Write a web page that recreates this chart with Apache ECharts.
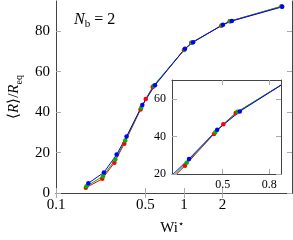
<!DOCTYPE html>
<html><head><meta charset="utf-8">
<script src="https://cdn.jsdelivr.net/npm/echarts@6/dist/echarts.min.js"></script>
<style>html,body{margin:0;padding:0;background:#fff}#c{width:293px;height:240px}</style>
</head><body><div id="c"></div>
<script>
const redWi   = [0.171,0.230,0.286,0.342,0.458,0.503,0.570,1.00,1.14,1.96,2.28,5.80];
const redR    = [2.6,7.0,15.0,24.4,41.3,46.5,52.4,70.8,74.3,82.8,85.0,92.4];
const greenWi = [0.173,0.233,0.291,0.348,0.464,0.580,1.01,1.15,1.98,2.30,5.80];
const greenR  = [3.3,8.3,16.6,26.0,42.2,53.1,71.0,74.3,83.0,85.0,92.3];
const blueWi  = [0.179,0.237,0.298,0.356,0.473,0.594,1.02,1.18,2.02,2.37,5.87];
const blueR   = [4.8,10.2,19.0,28.0,43.5,53.3,71.4,74.6,83.3,85.1,92.1];
const mainXTicks = [0.1,0.5,1,2];
const mainYTicks = [0,20,40,60,80];
const insetXTicks = [0.5,0.8];
const insetYTicks = [20,40,60];

const SERIF = 'Liberation Serif';
const pair = (xs, ys) => xs.map((x, i) => [x, ys[i]]);
const seriesDefs = [
  {name:'red', color:'#ff0000', data: pair(redWi, redR)},
  {name:'green', color:'#00b400', data: pair(greenWi, greenR)},
  {name:'blue', color:'#0000ff', data: pair(blueWi, blueR)}
];

function xAx(grid, pos, min, max, ticks, showLabel, fs) {
  return {
    type:'log', logBase:10, gridIndex:grid, position:pos, min:min, max:max,
    axisLine:{show:true, lineStyle:{color:'#444', width:1}},
    axisTick:{show:true, inside:true, length:5, lineStyle:{color:'#aaa'}, customValues:ticks},
    axisLabel:{show:showLabel, customValues:ticks, margin:5, color:'#000', fontFamily:SERIF, fontSize:fs,
      formatter: v => String(v)},
    splitLine:{show:false}, minorTick:{show:false}
  };
}
function yAx(grid, pos, min, max, ticks, showLabel, fs) {
  return {
    type:'value', gridIndex:grid, position:pos, min:min, max:max,
    axisLine:{show:true, lineStyle:{color:'#444', width:1}},
    axisTick:{show:true, inside:true, length:5, lineStyle:{color:'#aaa'}, customValues:ticks},
    axisLabel:{show:showLabel, customValues:ticks, margin:6, color:'#000', fontFamily:SERIF, fontSize:fs},
    splitLine:{show:false}
  };
}

const series = [];
seriesDefs.forEach(s => {
  series.push({type:'line', xAxisIndex:0, yAxisIndex:0, data:s.data, symbol:'circle', symbolSize:4.5,
    itemStyle:{color:s.color}, lineStyle:{color:s.color, width:1}, animation:false, z:3});
});
seriesDefs.forEach(s => {
  series.push({type:'line', xAxisIndex:2, yAxisIndex:2, data:s.data, symbol:'circle', symbolSize:4.5,
    itemStyle:{color:s.color}, lineStyle:{color:s.color, width:1}, animation:false, clip:true, z:5});
});

const chart = echarts.init(document.getElementById('c'), null, {renderer:'canvas'});
chart.setOption({
  animation:false,
  backgroundColor:'#fff',
  textStyle:{fontFamily:SERIF},
  grid:[
    {left:56, right:1, top:1, bottom:47, show:false},
    {left:172, right:12, top:80, bottom:66, show:true, backgroundColor:'#fff', borderWidth:0, z:4}
  ],
  xAxis:[
    xAx(0,'bottom',0.1,7,mainXTicks,true,15),
    xAx(0,'top',0.1,7,mainXTicks,false,15),
    Object.assign(xAx(1,'bottom',0.3,0.9,insetXTicks,true,12), {z:6}),
    Object.assign(xAx(1,'top',0.3,0.9,insetXTicks,false,12), {z:6})
  ],
  yAxis:[
    yAx(0,'left',0,95,mainYTicks,true,15),
    yAx(0,'right',0,95,mainYTicks,false,15),
    Object.assign(yAx(1,'left',20,70,insetYTicks,true,12), {z:6}),
    Object.assign(yAx(1,'right',20,70,insetYTicks,false,12), {z:6})
  ],
  series: series,
  graphic:[
    {type:'text', left:74, top:12, style:{
      text:'{i|N}{s|b}{a| = 2}',
      rich:{
        i:{fontFamily:SERIF, fontStyle:'italic', fontSize:16, lineHeight:20, verticalAlign:'middle'},
        s:{fontFamily:SERIF, fontSize:11, lineHeight:20, verticalAlign:'bottom'},
        a:{fontFamily:SERIF, fontSize:16, lineHeight:20, verticalAlign:'middle'}
      }}},
    {type:'text', x:172, y:228, style:{
      text:'{a|Wi}{s|⋆}', align:'center', verticalAlign:'middle',
      rich:{
        a:{fontFamily:SERIF, fontSize:15, lineHeight:18, verticalAlign:'middle'},
        s:{fontFamily:SERIF, fontSize:10, lineHeight:18, verticalAlign:'top'}
      }}},
    {type:'text', x:14, y:97, rotation:Math.PI/2, style:{
      text:'{a|⟨}{i|R}{a|⟩/}{i|R}{s|eq}', align:'center', verticalAlign:'middle',
      rich:{
        a:{fontFamily:SERIF, fontSize:15, lineHeight:20, verticalAlign:'middle'},
        i:{fontFamily:SERIF, fontStyle:'italic', fontSize:15, lineHeight:20, verticalAlign:'middle'},
        s:{fontFamily:SERIF, fontSize:10, lineHeight:20, verticalAlign:'bottom'}
      }}}
  ]
});
</script></body></html>
